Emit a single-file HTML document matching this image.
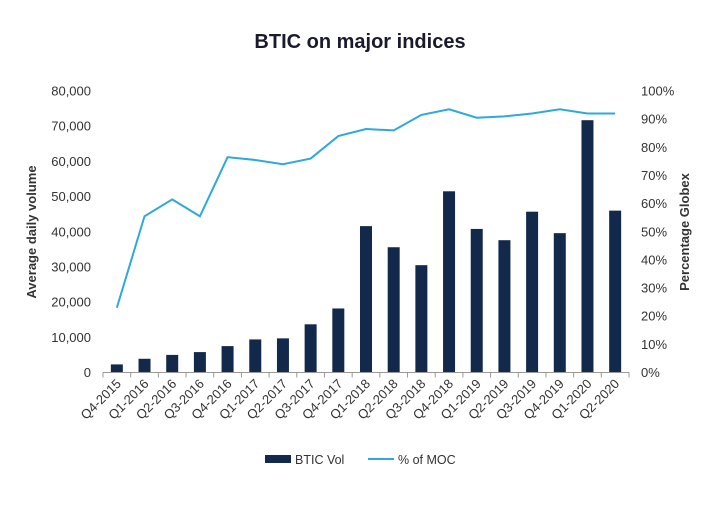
<!DOCTYPE html>
<html><head><meta charset="utf-8"><style>
body{margin:0;background:#fff;width:720px;height:500px;overflow:hidden;font-family:"Liberation Sans",sans-serif}
svg text{font-family:"Liberation Sans",sans-serif;fill:#333}
</style></head><body>
<svg id="c" width="720" height="500">
<text x="360" y="48" text-anchor="middle" font-size="20" font-weight="bold" style="fill:#1a1a2e">BTIC on major indices</text>
</svg>
<script>
const categories=["Q4-2015","Q1-2016","Q2-2016","Q3-2016","Q4-2016","Q1-2017","Q2-2017","Q3-2017","Q4-2017","Q1-2018","Q2-2018","Q3-2018","Q4-2018","Q1-2019","Q2-2019","Q3-2019","Q4-2019","Q1-2020","Q2-2020"];
const bticVol=[2300,3900,5000,5800,7500,9400,9700,13700,18200,41600,35600,30500,51500,40800,37600,45700,39600,71700,46000];
const pctMOC=[23,55.5,61.5,55.5,76.5,75.5,74,76,84,86.5,86,91.5,93.5,90.5,91,92,93.5,92,92];
const leftTicks=[0,10000,20000,30000,40000,50000,60000,70000,80000];
const rightTicks=[0,10,20,30,40,50,60,70,80,90,100];
const svg=document.getElementById('c');const NS='http://www.w3.org/2000/svg';
const X0=103,X1=629,Y0=372.5,Y1=91;
const step=(X1-X0)/categories.length;
const xC=i=>X0+step*(i+0.5);
const yL=v=>Y0-(v/80000)*(Y0-Y1);
const yR=v=>Y0-(v/100)*(Y0-Y1);
function mk(t,a){const e=document.createElementNS(NS,t);for(const k in a)e.setAttribute(k,a[k]);svg.appendChild(e);return e;}
leftTicks.forEach(v=>{const t=mk('text',{x:X0-12,y:yL(v)+4.5,'text-anchor':'end','font-size':13});t.textContent=v.toLocaleString('en-US');

});
rightTicks.forEach(v=>{const t=mk('text',{x:X1+12,y:yR(v)+4.5,'font-size':13});t.textContent=v+'%';

});
bticVol.forEach((v,i)=>{const r=mk('rect',{x:xC(i)-6,y:yL(v),width:12,height:Y0-yL(v),fill:'#13294b'});

});
const ax=mk('line',{x1:X0,x2:X1,y1:Y0,y2:Y0,stroke:'#999','stroke-width':1});


for(let i=0;i<=categories.length;i++){const tk=mk('line',{x1:X0+step*i,x2:X0+step*i,y1:Y0,y2:Y0+5,stroke:'#999'});

}
categories.forEach((c,i)=>{const x=xC(i)+5,y=Y0+12;const t=mk('text',{x:x,y:y,'text-anchor':'end','font-size':13,transform:`rotate(-45 ${x} ${y})`});t.textContent=c;

});
const pl=mk('polyline',{points:pctMOC.map((v,i)=>xC(i)+','+yR(v)).join(' '),fill:'none',stroke:'#2fa8dc','stroke-width':2});


let t=mk('text',{x:36,y:232,'text-anchor':'middle','font-size':13,'font-weight':'bold',transform:'rotate(-90 36 232)'});t.textContent='Average daily volume';


t=mk('text',{x:689,y:232,'text-anchor':'middle','font-size':13,'font-weight':'bold',transform:'rotate(-90 689 232)'});t.textContent='Percentage Globex';


let lg=mk('rect',{x:265,y:455,width:26,height:8,fill:'#13294b'});


t=mk('text',{x:295,y:464,'font-size':12.5});t.textContent='BTIC Vol';


lg=mk('line',{x1:368,x2:394,y1:459,y2:459,stroke:'#2fa8dc','stroke-width':2});


t=mk('text',{x:398,y:464,'font-size':12.5});t.textContent='% of MOC';


</script>
</body></html>
